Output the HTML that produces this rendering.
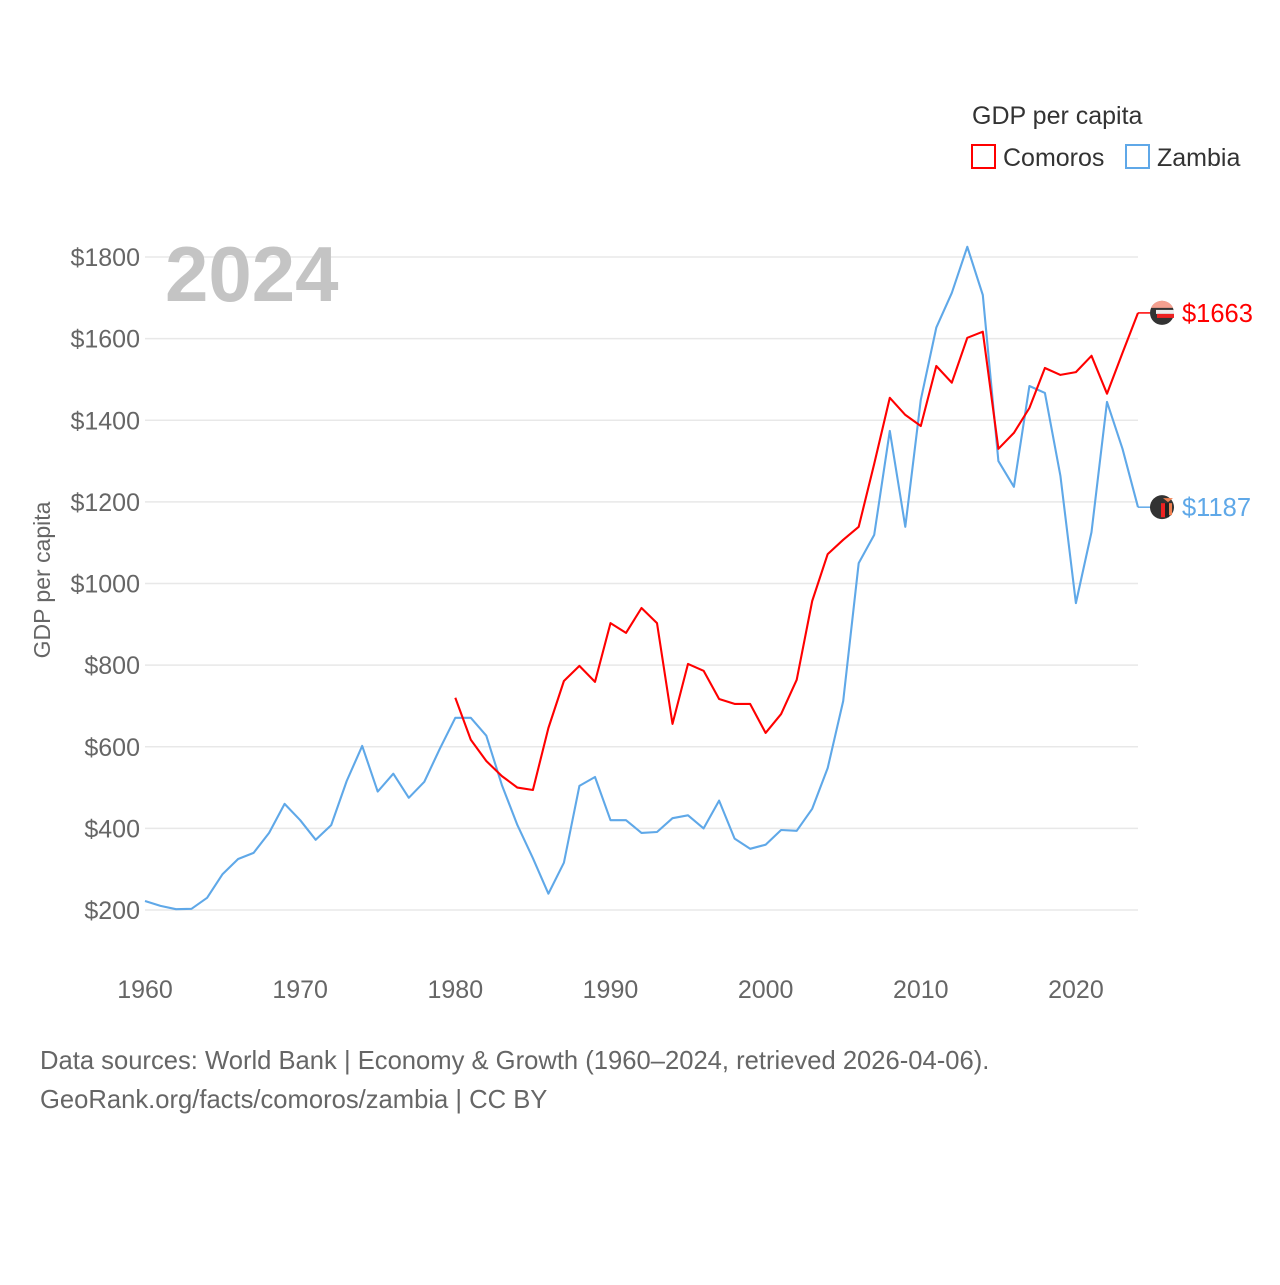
<!DOCTYPE html>
<html><head><meta charset="utf-8"><style>
body{margin:0;background:#fff;font-family:"Liberation Sans",sans-serif}
</style></head><body>
<svg id="chart" width="1280" height="1280" xmlns="http://www.w3.org/2000/svg" font-family="Liberation Sans, sans-serif">
<rect width="1280" height="1280" fill="#fff"/>
<g id="grid"></g>
<g id="yticks"></g>
<g id="xticks"></g>
<text x="165" y="301" font-size="78" font-weight="bold" fill="#c4c4c4">2024</text>
<text transform="translate(50,580) rotate(-90)" text-anchor="middle" font-size="23" fill="#666">GDP per capita</text>
<g id="series"></g>
<text x="972" y="124" font-size="25" fill="#333">GDP per capita</text>
<g><rect x="972" y="145" width="23" height="23" fill="none" stroke="#f00" stroke-width="2"/><text x="1003" y="166" font-size="25" fill="#333">Comoros</text></g>
<g><rect x="1126" y="145" width="23" height="23" fill="none" stroke="#5fa8e8" stroke-width="2"/><text x="1157" y="166" font-size="25" fill="#333">Zambia</text></g>
<text x="40" y="1069" font-size="25.6" fill="#666">Data sources: World Bank | Economy &amp; Growth (1960–2024, retrieved 2026-04-06).</text>
<text x="40" y="1108" font-size="25.6" fill="#666">GeoRank.org/facts/comoros/zambia | CC BY</text>
</svg>
<script>
const years=[];for(let y=1960;y<=2024;y++)years.push(y);
const zambia=[222,210,202,203,230,288,325,340,389,460,420,372,408,516,602,490,534,475,514,595,671,671,627,506,408,327,240,316,504,526,420,420,389,391,425,432,400,468,375,350,360,396,394,448,548,712,1050,1119,1374,1139,1450,1627,1712,1825,1707,1300,1237,1484,1467,1264,952,1126,1445,1330,1187];
const comorosYears=[];for(let y=1980;y<=2024;y++)comorosYears.push(y);
const comoros=[720,617,565,528,500,494,646,761,798,759,903,879,940,903,656,803,786,717,705,705,634,680,764,957,1072,1107,1139,1293,1455,1413,1386,1533,1492,1602,1617,1330,1369,1430,1528,1511,1518,1558,1465,1565,1663];
const yTicks=[200,400,600,800,1000,1200,1400,1600,1800];
const xTicks=[1960,1970,1980,1990,2000,2010,2020];
const NS="http://www.w3.org/2000/svg";
const X=y=>145+(y-1960)*(1138-145)/64;
const Y=v=>910-(v-200)*(653/1600);
function el(t,a,p){const e=document.createElementNS(NS,t);for(const k in a)e.setAttribute(k,a[k]);p.appendChild(e);return e;}
const grid=document.getElementById('grid'),yt=document.getElementById('yticks'),xt=document.getElementById('xticks'),S=document.getElementById('series');
yTicks.forEach(v=>{
 const l=el('line',{x1:145,x2:1138,y1:Y(v),y2:Y(v),stroke:'#e8e8e8','stroke-width':1.5},grid);
 
 
 const t=el('text',{x:140,y:Y(v)+9,'text-anchor':'end','font-size':25,fill:'#666'},yt);t.textContent='$'+v;
 
 
});
xTicks.forEach(v=>{
 const t=el('text',{x:X(v),y:998,'text-anchor':'middle','font-size':25,fill:'#666'},xt);t.textContent=v;
 
 
});
function line(xs,vs,c,name,flag){
 const d=vs.map((v,i)=>(i?'L':'M')+X(xs[i]).toFixed(1)+','+Y(v).toFixed(1)).join('');
 const p=el('path',{d:d,fill:'none',stroke:c,'stroke-width':2.1,'stroke-linejoin':'round'},S);
 
 
 const last=vs[vs.length-1],ly=Y(last);
 el('line',{x1:1138,x2:1150,y1:ly,y2:ly,stroke:c,'stroke-width':1.5},S);
 const g=el('g',{},S);
 
 
 el('circle',{cx:1162,cy:ly,r:12,fill:'#333'},g);
 if(flag==='km'){
  el('path',{d:`M1151,${ly-5} A12,12 0 0 1 1173,${ly-5} Z`,fill:'#f4a090'},g);
  el('rect',{x:1156,y:ly-3,width:18,height:4,fill:'#eee'},g);
  el('rect',{x:1157,y:ly+1,width:17,height:4,fill:'#e22'},g);
 }else{
  el('rect',{x:1161,y:ly-4,width:4,height:14,fill:'#e22'},g);
  el('rect',{x:1165,y:ly-4,width:4,height:14,fill:'#222'},g);
  el('rect',{x:1169,y:ly-4,width:3,height:12,fill:'#f08050'},g);
  el('path',{d:`M1163,${ly-9} L1173,${ly-9} L1168,${ly-5} Z`,fill:'#f08050'},g);
 }
 const t=el('text',{x:1182,y:ly+9,'font-size':25.5,fill:c},S);t.textContent='$'+last;
 
 
}
line(years,zambia,'#5fa8e8','zambia-line','zm');
line(comorosYears,comoros,'#f00','comoros-line','km');
</script>
</body></html>
